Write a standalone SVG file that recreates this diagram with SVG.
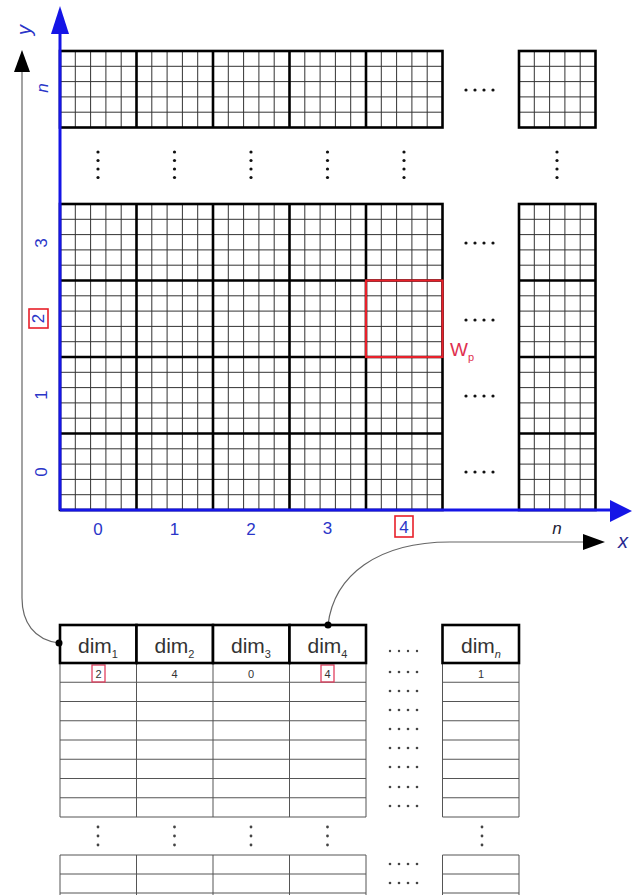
<svg xmlns="http://www.w3.org/2000/svg" width="632" height="895" viewBox="0 0 632 895">
<style>
.thin{fill:none;stroke:#333;stroke-width:1}
.thick{fill:none;stroke:#000;stroke-width:2.6}
.axis{stroke:#1515e6;stroke-width:3;fill:none}
.ah{fill:#1515e6}
.lab{font-family:"Liberation Sans",Arial,sans-serif;font-size:17px;fill:#2a35c8;text-anchor:middle;dominant-baseline:central}
.it{font-style:italic}
.red{fill:none;stroke:#e8202a;stroke-width:1.6}
.dot{fill:#111}
.tdot{fill:#444}
.hdr{fill:#fff;stroke:#000;stroke-width:2.6}
.htx{font-family:"Liberation Sans",Arial,sans-serif;font-size:21px;fill:#333;text-anchor:middle}
.val{font-family:"Liberation Sans",Arial,sans-serif;font-size:11px;fill:#333;text-anchor:middle}
.tl{fill:none;stroke:#555;stroke-width:1}
.conn{fill:none;stroke:#666;stroke-width:1.2}
</style>
<defs>
<marker id="arr" markerUnits="userSpaceOnUse" viewBox="0 0 22 16" markerWidth="22" markerHeight="16" refX="0" refY="8" orient="auto">
<path d="M0 0L22 8L0 16z" fill="#000"/>
</marker>
</defs>
<rect width="632" height="895" fill="#fff"/>

<g id="grid-top">
<path class="thin" d="M75.3 51V127.5M90.6 51V127.5M105.9 51V127.5M121.2 51V127.5M151.8 51V127.5M167.1 51V127.5M182.4 51V127.5M197.7 51V127.5M228.3 51V127.5M243.6 51V127.5M258.9 51V127.5M274.2 51V127.5M304.8 51V127.5M320.1 51V127.5M335.4 51V127.5M350.7 51V127.5M381.3 51V127.5M396.6 51V127.5M411.9 51V127.5M427.2 51V127.5M60 66.3H442.5M60 81.6H442.5M60 96.9H442.5M60 112.2H442.5"/>
<rect class="thick" x="60" y="51" width="382.5" height="76.5"/>
<path class="thick" d="M136.5 51V127.5M213 51V127.5M289.5 51V127.5M366 51V127.5"/>
</g>

<g id="grid-top-right">
<path class="thin" d="M534.3 51V127.5M549.6 51V127.5M564.9 51V127.5M580.2 51V127.5M519 66.3H595.5M519 81.6H595.5M519 96.9H595.5M519 112.2H595.5"/>
<rect class="thick" x="519" y="51" width="76.5" height="76.5"/>
</g>

<g id="grid-main">
<path class="thin" d="M75.3 204V510M90.6 204V510M105.9 204V510M121.2 204V510M151.8 204V510M167.1 204V510M182.4 204V510M197.7 204V510M228.3 204V510M243.6 204V510M258.9 204V510M274.2 204V510M304.8 204V510M320.1 204V510M335.4 204V510M350.7 204V510M381.3 204V510M396.6 204V510M411.9 204V510M427.2 204V510M60 219.3H442.5M60 234.6H442.5M60 249.9H442.5M60 265.2H442.5M60 295.8H442.5M60 311.1H442.5M60 326.4H442.5M60 341.7H442.5M60 372.3H442.5M60 387.6H442.5M60 402.9H442.5M60 418.2H442.5M60 448.8H442.5M60 464.1H442.5M60 479.4H442.5M60 494.7H442.5"/>
<rect class="thick" x="60" y="204" width="382.5" height="306"/>
<path class="thick" d="M136.5 204V510M213 204V510M289.5 204V510M366 204V510M60 280.5H442.5M60 357H442.5M60 433.5H442.5"/>
</g>

<g id="grid-main-right">
<path class="thin" d="M534.3 204V510M549.6 204V510M564.9 204V510M580.2 204V510M519 219.3H595.5M519 234.6H595.5M519 249.9H595.5M519 265.2H595.5M519 295.8H595.5M519 311.1H595.5M519 326.4H595.5M519 341.7H595.5M519 372.3H595.5M519 387.6H595.5M519 402.9H595.5M519 418.2H595.5M519 448.8H595.5M519 464.1H595.5M519 479.4H595.5M519 494.7H595.5"/>
<rect class="thick" x="519" y="204" width="76.5" height="306"/>
<path class="thick" d="M519 280.5H595.5M519 357H595.5M519 433.5H595.5"/>
</g>

<g id="grid-dots">
<g class="dot">
<circle cx="98" cy="152" r="1.6"/><circle cx="98" cy="160.5" r="1.6"/><circle cx="98" cy="169" r="1.6"/><circle cx="98" cy="177.5" r="1.6"/>
<circle cx="174.5" cy="152" r="1.6"/><circle cx="174.5" cy="160.5" r="1.6"/><circle cx="174.5" cy="169" r="1.6"/><circle cx="174.5" cy="177.5" r="1.6"/>
<circle cx="251" cy="152" r="1.6"/><circle cx="251" cy="160.5" r="1.6"/><circle cx="251" cy="169" r="1.6"/><circle cx="251" cy="177.5" r="1.6"/>
<circle cx="327.5" cy="152" r="1.6"/><circle cx="327.5" cy="160.5" r="1.6"/><circle cx="327.5" cy="169" r="1.6"/><circle cx="327.5" cy="177.5" r="1.6"/>
<circle cx="404" cy="152" r="1.6"/><circle cx="404" cy="160.5" r="1.6"/><circle cx="404" cy="169" r="1.6"/><circle cx="404" cy="177.5" r="1.6"/>
<circle cx="557" cy="152" r="1.6"/><circle cx="557" cy="160.5" r="1.6"/><circle cx="557" cy="169" r="1.6"/><circle cx="557" cy="177.5" r="1.6"/>
<circle cx="466" cy="90" r="1.6"/><circle cx="475" cy="90" r="1.6"/><circle cx="484" cy="90" r="1.6"/><circle cx="493" cy="90" r="1.6"/>
<circle cx="466" cy="243" r="1.6"/><circle cx="475" cy="243" r="1.6"/><circle cx="484" cy="243" r="1.6"/><circle cx="493" cy="243" r="1.6"/>
<circle cx="466" cy="320" r="1.6"/><circle cx="475" cy="320" r="1.6"/><circle cx="484" cy="320" r="1.6"/><circle cx="493" cy="320" r="1.6"/>
<circle cx="466" cy="396" r="1.6"/><circle cx="475" cy="396" r="1.6"/><circle cx="484" cy="396" r="1.6"/><circle cx="493" cy="396" r="1.6"/>
<circle cx="466" cy="472" r="1.6"/><circle cx="475" cy="472" r="1.6"/><circle cx="484" cy="472" r="1.6"/><circle cx="493" cy="472" r="1.6"/>
</g>
</g>

<g id="window-wp">
<rect x="366" y="280.5" width="76.5" height="76.5" fill="none" stroke="#e8202a" stroke-width="2.2"/>
<text x="450" y="356" font-family="'Liberation Sans',Arial,sans-serif" font-size="19" fill="#e03050">W<tspan font-size="11" dy="5">p</tspan></text>
</g>

<g id="axes">
<path class="axis" d="M60 510V30M60 510H612"/>
<path class="ah" d="M60 6L51 34L69 34z"/>
<path class="ah" d="M632 511L610 500L610 522z"/>
<text class="lab it" transform="translate(24 30) rotate(-90)" style="font-size:20px">y</text>
<text class="lab it" transform="translate(42 88) rotate(-90)">n</text>
<text class="lab" transform="translate(41 243) rotate(-90)">3</text>
<rect class="red" x="29" y="309" width="19" height="19"/>
<text class="lab" transform="translate(38.5 318.5) rotate(-90)">2</text>
<text class="lab" transform="translate(41 395) rotate(-90)">1</text>
<text class="lab" transform="translate(41 472) rotate(-90)">0</text>
<text class="lab" x="98" y="529">0</text>
<text class="lab" x="174.5" y="529">1</text>
<text class="lab" x="251" y="529">2</text>
<text class="lab" x="327.5" y="528">3</text>
<rect class="red" x="395" y="516" width="18" height="21"/>
<text class="lab" x="404" y="527">4</text>
<text class="lab it" x="557" y="528" style="fill:#223">n</text>
<text class="lab it" x="623" y="541" style="font-size:20px;fill:#2a2a90">x</text>
</g>

<g id="table-body">
<path class="tl" d="M60 682.25H366M60 701.5H366M60 720.75H366M60 740H366M60 759.25H366M60 778.5H366M60 797.75H366M60 817H366M442.5 682.25H519M442.5 701.5H519M442.5 720.75H519M442.5 740H519M442.5 759.25H519M442.5 778.5H519M442.5 797.75H519M442.5 817H519M60 663V817M136.5 663V817M213 663V817M289.5 663V817M366 663V817M442.5 663V817M519 663V817"/>
<path class="tl" d="M60 855H366M60 874H366M60 893H366M442.5 855H519M442.5 874H519M442.5 893H519M60 855V895M136.5 855V895M213 855V895M289.5 855V895M366 855V895M442.5 855V895M519 855V895"/>
<rect x="92" y="665" width="13" height="17" fill="none" stroke="#e04060" stroke-width="1.3"/>
<text class="val" x="98.5" y="678">2</text>
<text class="val" x="174.5" y="678">4</text>
<text class="val" x="251" y="678">0</text>
<rect x="321" y="665" width="13" height="17" fill="none" stroke="#e04060" stroke-width="1.3"/>
<text class="val" x="327.5" y="678">4</text>
<text class="val" x="481" y="678">1</text>
<g class="tdot">
<circle cx="98" cy="827" r="1.4"/><circle cx="98" cy="836" r="1.4"/><circle cx="98" cy="845" r="1.4"/>
<circle cx="174.5" cy="827" r="1.4"/><circle cx="174.5" cy="836" r="1.4"/><circle cx="174.5" cy="845" r="1.4"/>
<circle cx="251" cy="827" r="1.4"/><circle cx="251" cy="836" r="1.4"/><circle cx="251" cy="845" r="1.4"/>
<circle cx="327.5" cy="827" r="1.4"/><circle cx="327.5" cy="836" r="1.4"/><circle cx="327.5" cy="845" r="1.4"/>
<circle cx="482" cy="827" r="1.4"/><circle cx="482" cy="836" r="1.4"/><circle cx="482" cy="845" r="1.4"/>
</g>
<g class="tdot">
<circle cx="390" cy="651" r="1.2"/><circle cx="399" cy="651" r="1.2"/><circle cx="408" cy="651" r="1.2"/><circle cx="417" cy="651" r="1.2"/>
<circle cx="390" cy="672" r="1.3"/><circle cx="399" cy="672" r="1.3"/><circle cx="408" cy="672" r="1.3"/><circle cx="417" cy="672" r="1.3"/>
<circle cx="390" cy="691" r="1.3"/><circle cx="399" cy="691" r="1.3"/><circle cx="408" cy="691" r="1.3"/><circle cx="417" cy="691" r="1.3"/>
<circle cx="390" cy="710" r="1.3"/><circle cx="399" cy="710" r="1.3"/><circle cx="408" cy="710" r="1.3"/><circle cx="417" cy="710" r="1.3"/>
<circle cx="390" cy="729" r="1.3"/><circle cx="399" cy="729" r="1.3"/><circle cx="408" cy="729" r="1.3"/><circle cx="417" cy="729" r="1.3"/>
<circle cx="390" cy="748" r="1.3"/><circle cx="399" cy="748" r="1.3"/><circle cx="408" cy="748" r="1.3"/><circle cx="417" cy="748" r="1.3"/>
<circle cx="390" cy="767" r="1.3"/><circle cx="399" cy="767" r="1.3"/><circle cx="408" cy="767" r="1.3"/><circle cx="417" cy="767" r="1.3"/>
<circle cx="390" cy="787" r="1.3"/><circle cx="399" cy="787" r="1.3"/><circle cx="408" cy="787" r="1.3"/><circle cx="417" cy="787" r="1.3"/>
<circle cx="390" cy="806" r="1.3"/><circle cx="399" cy="806" r="1.3"/><circle cx="408" cy="806" r="1.3"/><circle cx="417" cy="806" r="1.3"/>
<circle cx="390" cy="864" r="1.3"/><circle cx="399" cy="864" r="1.3"/><circle cx="408" cy="864" r="1.3"/><circle cx="417" cy="864" r="1.3"/>
<circle cx="390" cy="883" r="1.3"/><circle cx="399" cy="883" r="1.3"/><circle cx="408" cy="883" r="1.3"/><circle cx="417" cy="883" r="1.3"/>
</g>
</g>

<g id="dim1"><rect class="hdr" x="60" y="625" width="76.5" height="38"/><text class="htx" x="98" y="653">dim<tspan font-size="11" dy="5">1</tspan></text></g>
<g id="dim2"><rect class="hdr" x="136.5" y="625" width="76.5" height="38"/><text class="htx" x="174.5" y="653">dim<tspan font-size="11" dy="5">2</tspan></text></g>
<g id="dim3"><rect class="hdr" x="213" y="625" width="76.5" height="38"/><text class="htx" x="251" y="653">dim<tspan font-size="11" dy="5">3</tspan></text></g>
<g id="dim4"><rect class="hdr" x="289.5" y="625" width="76.5" height="38"/><text class="htx" x="327.5" y="653">dim<tspan font-size="11" dy="5">4</tspan></text></g>
<g id="dimn"><rect class="hdr" x="442.5" y="625" width="76.5" height="38"/><text class="htx" x="481" y="653">dim<tspan font-size="11" dy="5" font-style="italic">n</tspan></text></g>

<g id="connectors">
<path class="conn" d="M59 643C34 640 22 622 22 598V72" marker-end="url(#arr)"/>
<path class="conn" d="M328 625C334 575 378 542 450 542H583" marker-end="url(#arr)"/>
<circle cx="59" cy="643" r="3.5" fill="#000"/>
<circle cx="328" cy="625" r="3.5" fill="#000"/>
</g>
</svg>
